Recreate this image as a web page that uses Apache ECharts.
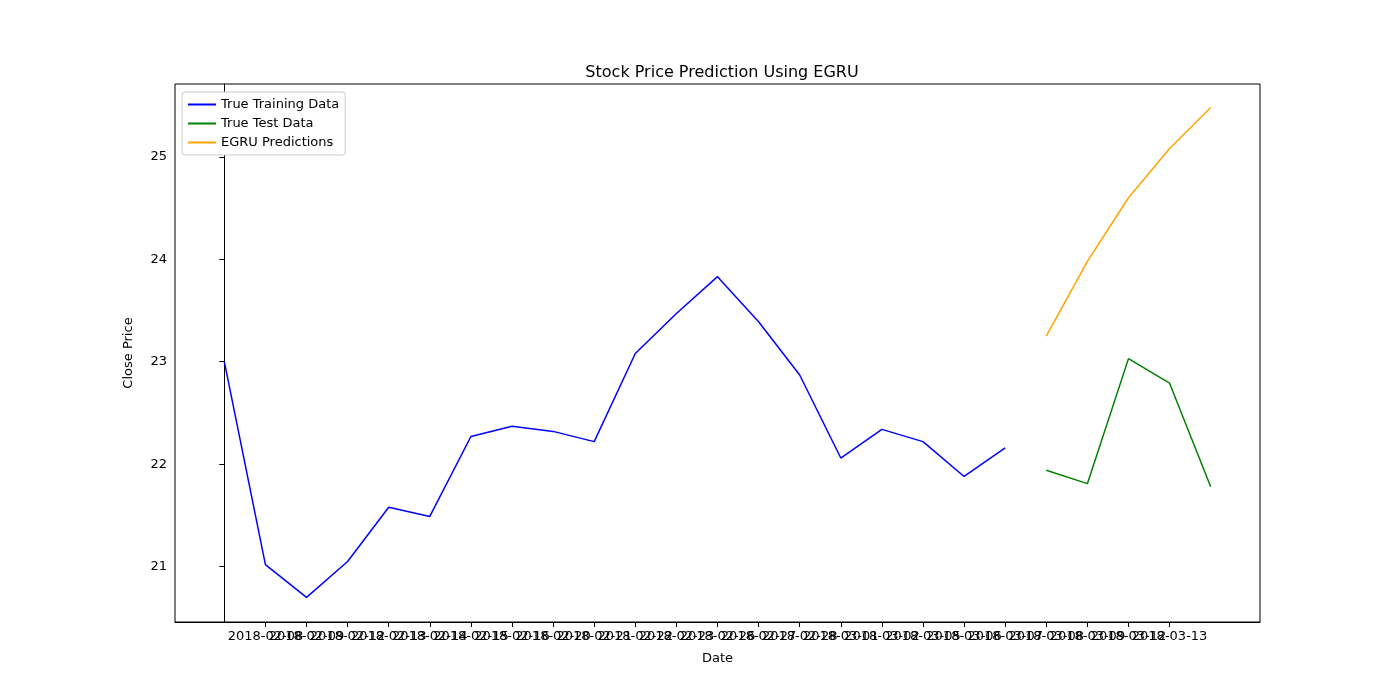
<!DOCTYPE html><html><head><meta charset="utf-8"><script src="https://cdn.jsdelivr.net/npm/echarts@6/dist/echarts.min.js"></script></head><body style="margin:0"><div id="c" style="width:1400px;height:700px"></div><script>
const dates=["2018-02-07","2018-02-08","2018-02-09","2018-02-12","2018-02-13","2018-02-14","2018-02-15","2018-02-16","2018-02-20","2018-02-21","2018-02-22","2018-02-23","2018-02-26","2018-02-27","2018-02-28","2018-03-01","2018-03-02","2018-03-05","2018-03-06","2018-03-07","2018-03-08","2018-03-09","2018-03-12","2018-03-13","2018-03-14"];
const trainVals=[23.0,21.02,20.7,21.05,21.58,21.49,22.27,22.37,22.32,22.22,23.08,23.47,23.83,23.39,22.87,22.06,22.34,22.22,21.88,22.16];
const testVals=[21.94,21.81,23.03,22.79,21.78];
const predVals=[23.25,23.98,24.6,25.08,25.48];
const yTicks=[21,22,23,24,25];
const idx=dates.map((d,i)=>i);
const train=trainVals.map((v,i)=>[i,v]);
const test=testVals.map((v,i)=>[i+20,v]);
const pred=predVals.map((v,i)=>[i+20,v]);
const f='DejaVu Sans';
const c=echarts.init(document.getElementById('c'));
c.setOption({animation:false,textStyle:{fontFamily:f},
title:{text:'Stock Price Prediction Using EGRU',left:717,top:60,textAlign:'center',textStyle:{fontFamily:f,fontSize:16,fontWeight:'normal',color:'#000'}},
legend:{left:182,top:92,orient:'vertical',itemGap:6,itemWidth:28,itemHeight:2,icon:'rect',backgroundColor:'#fff',borderColor:'#ccc',borderWidth:1,borderRadius:3,padding:[6,6],textStyle:{fontFamily:f,fontSize:13,color:'#000'},data:['True Training Data','True Test Data','EGRU Predictions']},
grid:{left:175,right:140,top:84,bottom:78,show:true,borderColor:'#000',borderWidth:1,backgroundColor:'transparent'},
xAxis:{type:'value',min:-1.2,max:25.2,name:'Date',nameLocation:'middle',nameGap:30,nameTextStyle:{fontFamily:f,fontSize:13,color:'#000'},axisLine:{lineStyle:{color:'#000'}},axisTick:{show:true,customValues:idx,lineStyle:{color:'#000'}},axisLabel:{customValues:idx,color:'#000',fontSize:13,fontFamily:f,hideOverlap:false,formatter:v=>dates[v]||''},splitLine:{show:false}},
yAxis:{type:'value',min:20.46,max:25.71,name:'Close Price',nameLocation:'middle',nameGap:40,nameTextStyle:{fontFamily:f,fontSize:13,color:'#000'},axisLine:{show:true,lineStyle:{color:'#000'}},axisTick:{show:true,customValues:yTicks,lineStyle:{color:'#000'}},axisLabel:{customValues:yTicks,color:'#000',fontSize:13,fontFamily:f},splitLine:{show:false}},
series:[
{name:'True Training Data',type:'line',data:train,symbol:'none',lineStyle:{color:'#0000ff',width:1.5},itemStyle:{color:'#0000ff'}},
{name:'True Test Data',type:'line',data:test,symbol:'none',lineStyle:{color:'#008000',width:1.5},itemStyle:{color:'#008000'}},
{name:'EGRU Predictions',type:'line',data:pred,symbol:'none',lineStyle:{color:'#ffa500',width:1.5},itemStyle:{color:'#ffa500'}}]});
</script></body></html>
